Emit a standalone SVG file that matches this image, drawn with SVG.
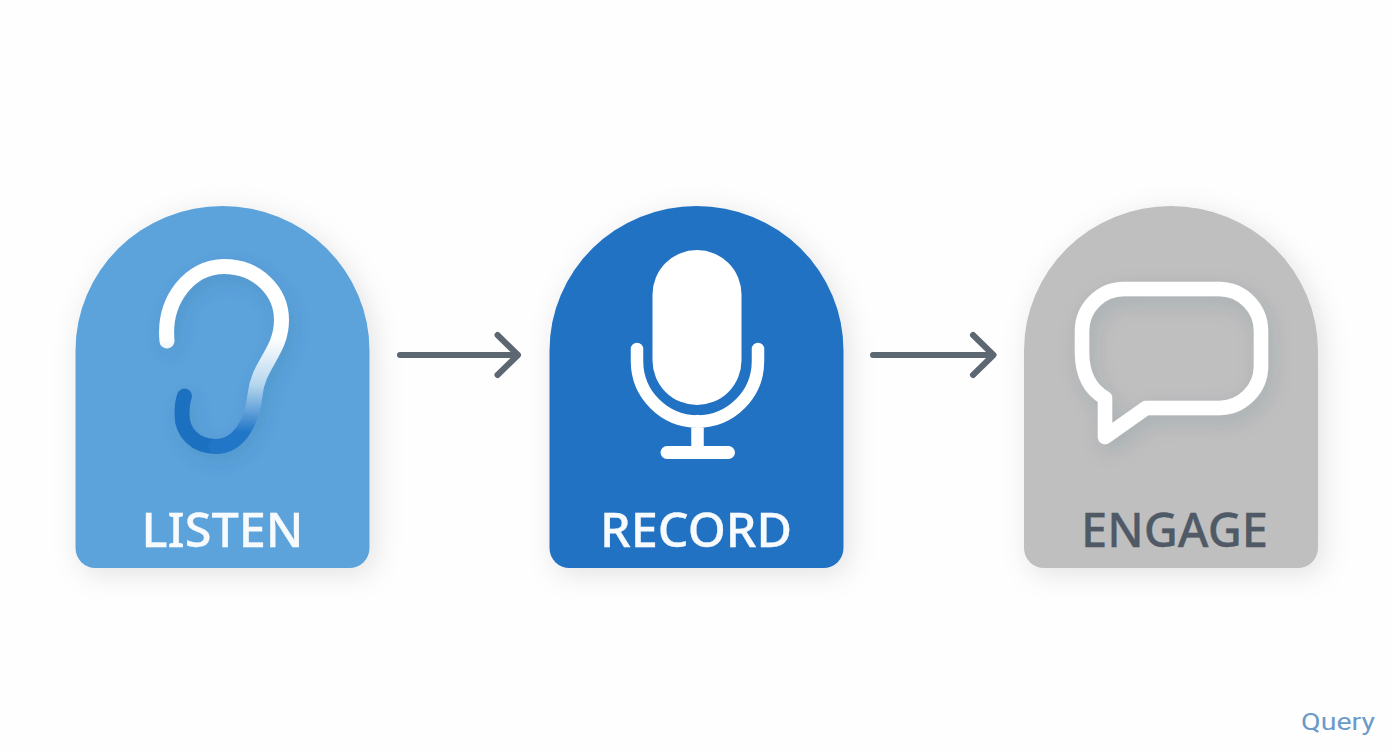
<svg xmlns="http://www.w3.org/2000/svg" width="1392" height="752" viewBox="0 0 1392 752">
<style>
.label{font-family:"Noto Sans","Liberation Sans",sans-serif;font-size:48px;font-weight:500;text-anchor:middle;stroke-width:.3px}
.w{fill:#f8fbfe;stroke:#f8fbfe}
.icon{fill:none;stroke:#fff;stroke-linecap:round;stroke-linejoin:round}
.ear{fill:none;stroke-width:15;stroke-linecap:round}
.arrow{fill:none;stroke:#5c6772;stroke-width:6;stroke-linecap:round;stroke-linejoin:round}
</style>
<defs>
<path id="card" d="M0 144.500A147 144.500 0 0 1 294 144.500V342A20 20 0 0 1 274 362H20A20 20 0 0 1 0 342Z"/>
<filter id="sh" x="-20%" y="-20%" width="140%" height="140%"><feDropShadow dx="5" dy="6" stdDeviation="14" flood-color="#000" flood-opacity=".11"/></filter>
<filter id="ish" x="-30%" y="-30%" width="160%" height="160%"><feDropShadow dx="4" dy="7" stdDeviation="10" flood-color="#1a3a5a" flood-opacity=".14"/></filter>
<linearGradient id="earG" gradientUnits="userSpaceOnUse" x1="0" y1="338" x2="0" y2="432"><stop offset="0" stop-color="#fff"/><stop offset=".5" stop-color="#b5d6ee"/><stop offset="1" stop-color="#2176c8"/></linearGradient>
</defs>
<rect width="1392" height="752" fill="#fefefe"/>
<g id="connectors">
<path class="arrow" d="M400 355H517M497.500 335L518 355L497.500 375"/>
<path class="arrow" d="M873 355H992M973 335L993.500 355L973 375"/>
</g>
<g id="listen">
<use href="#card" x="75.500" y="206" fill="#5ba3dc" filter="url(#sh)"/>
<g filter="url(#ish)">
<path class="ear" stroke="#1f6fc0" d="M216 446.500C195 446.500 182 432 182 415C182 405 183 400 184.500 396"/>
<path class="ear" stroke-linecap="butt" stroke="url(#earG)" d="M167 341C163 300 190 266.500 224 266.500C258 266.500 281.500 292 281.500 320C281.500 352 258 364 255 395C252 425 237 446.500 216 446.500"/>
</g>
<text class="label w" x="222.500" y="547" textLength="162" lengthAdjust="spacingAndGlyphs">LISTEN</text>
</g>
<g id="record">
<use href="#card" x="549.500" y="206" fill="#2272c3" filter="url(#sh)"/>
<rect x="652.500" y="250" width="89" height="155" rx="44.500" fill="#fff"/>
<path class="icon" stroke-width="12.500" d="M637 349V361A60.500 60.500 0 0 0 758 361V349M697.500 421V452"/>
<path class="icon" stroke-width="13" d="M667 452.500H728.500"/>
<text class="label w" x="696" y="547" textLength="192" lengthAdjust="spacingAndGlyphs">RECORD</text>
</g>
<g id="engage">
<use href="#card" x="1024" y="206" fill="#bfbfbf" filter="url(#sh)"/>
<path class="icon" stroke-width="14.500" filter="url(#ish)" d="M1124 289H1219A42 42 0 0 1 1261 331V366A42 42 0 0 1 1219 408H1146L1105 437V398C1091 390 1082 375 1082 352V331A42 42 0 0 1 1124 289Z"/>
<text class="label" fill="#505a66" stroke="#505a66" x="1174.500" y="547" textLength="187" lengthAdjust="spacingAndGlyphs">ENGAGE</text>
</g>
<text x="1338" y="730" font-family="Roboto,sans-serif" font-size="24" font-weight="400" fill="#6b9ac8" text-anchor="middle" textLength="74" lengthAdjust="spacingAndGlyphs">Query</text>
</svg>
